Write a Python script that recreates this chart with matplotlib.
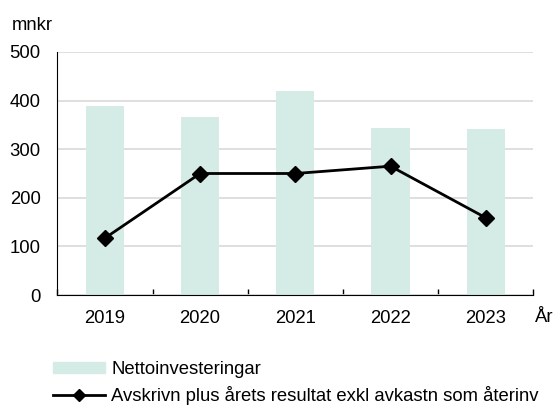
import matplotlib
matplotlib.use('Agg')
import matplotlib.pyplot as plt
import matplotlib.patches as mpatches
from matplotlib.lines import Line2D
import numpy as np

plt.rcParams['font.family'] = ['Liberation Sans', 'DejaVu Sans']

# data
years = ['2019', '2020', '2021', '2022', '2023']
netto = [389, 366, 420, 344, 341]
avskr = [117, 250, 250, 265, 159]

bar_color = '#d5ebe6'
fs = 13.3

fig = plt.figure(figsize=(5.57, 4.05), dpi=100)
ax = fig.add_axes([57.3 / 557, 1 - 295 / 405, 476 / 557, 243 / 405])

x = np.arange(len(years))
ax.bar(x, netto, width=0.4, color=bar_color, zorder=2)
ax.plot(x, avskr, color='black', lw=2, marker='D', markersize=8.5, zorder=3)

ax.set_xlim(-0.5, len(years) - 0.5)
ax.set_ylim(0, 500)
ax.set_yticks([0, 100, 200, 300, 400, 500])
ax.yaxis.grid(True, color='#d9d9d9', lw=1.2, zorder=0)
ax.set_axisbelow(True)

ax.set_xticks(x)
ax.set_xticklabels(years)
ax.set_xticks(np.arange(-0.5, len(years)), minor=True)
ax.tick_params(axis='x', which='major', length=0, pad=11, labelsize=fs)
ax.tick_params(axis='x', which='minor', length=4, width=1, color='black',
               direction='in')
ax.tick_params(axis='y', length=0, pad=12, labelsize=fs)

for s in ['top', 'right']:
    ax.spines[s].set_visible(False)
ax.spines['left'].set_color('black')
ax.spines['bottom'].set_color('black')

fig.text(12 / 557, 1 - 30.5 / 405, 'mnkr', fontsize=fs, va='baseline', ha='left')
fig.text(535 / 557, 1 - 321.7 / 405, 'År', fontsize=fs, va='baseline', ha='left')

handles = [mpatches.Patch(color=bar_color),
           Line2D([0], [0], color='black', lw=2, marker='D', markersize=6)]
labels = ['Nettoinvesteringar',
          'Avskrivn plus årets resultat exkl avkastn som återinv']
fig.legend(handles, labels, loc='upper left',
           bbox_to_anchor=(52.7 / 557, 1 - 361 / 405),
           frameon=False, fontsize=fs, borderpad=0, borderaxespad=0,
           handlelength=2.85, handleheight=0.55, handletextpad=0.33,
           labelspacing=0.45)

plt.savefig('out.png', dpi=100, facecolor='white')
